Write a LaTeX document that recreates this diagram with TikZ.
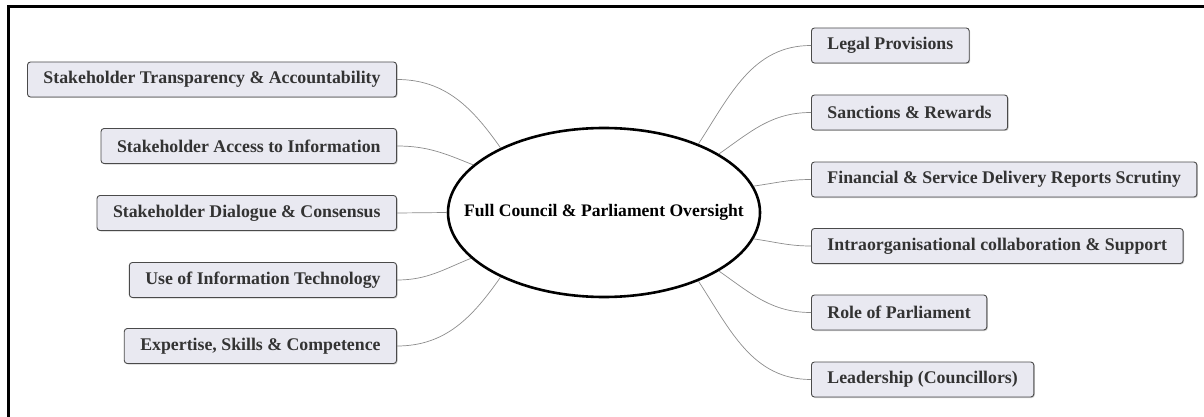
\documentclass[tikz,border=0pt]{standalone}
\usepackage{fontspec}
\setmainfont{Liberation Serif}
\usetikzlibrary{shapes.geometric,shadows}
\definecolor{boxfill}{HTML}{E9E9F1}
\definecolor{boxline}{HTML}{4A4A4A}
\definecolor{boxtext}{HTML}{333333}
\definecolor{linkgray}{HTML}{8C8C8C}
\begin{document}
\begin{tikzpicture}[x=1pt,y=-1pt,
  topic/.style={draw=boxline, line width=0.9pt, fill=boxfill, rounded corners=3pt,
    minimum height=35pt, inner xsep=16pt, inner ysep=0pt, text=boxtext,
    font=\fontsize{17.8}{19}\selectfont\bfseries,
    drop shadow={shadow xshift=1pt, shadow yshift=-1pt, fill=black!30, opacity=0.6}},
  leftbox/.style={topic, anchor=east},
  rightbox/.style={topic, anchor=west},
  link/.style={draw=linkgray, line width=0.7pt}]
\useasboundingbox (0,0) rectangle (1204,417);
% frame
\draw[line width=2.5pt] (1204,6.5) -- (8.5,6.5) -- (8.5,417);

% central topic: fixed-size ellipse with its title set on top
\node[ellipse, draw=black, line width=2.6pt, fill=white, minimum width=312pt, minimum height=169pt,
  inner sep=0pt] (c) at (604,212.5) {};
\node[font=\fontsize{17.6}{19}\selectfont\bfseries, inner sep=0pt] (ct) at (c.center)
  {Full Council \& Parliament Oversight};

% left branches
\node[leftbox] (l1) at (397,79.5) {Stakeholder Transparency \& Accountability};
\node[leftbox] (l2) at (397,146) {Stakeholder Access to Information};
\node[leftbox] (l3) at (397,213) {Stakeholder Dialogue \& Consensus};
\node[leftbox] (l4) at (397,280) {Use of Information Technology};
\node[leftbox] (l5) at (397,346) {Expertise, Skills \& Competence};

% right branches
\node[rightbox] (r1) at (811,45.5) {Legal Provisions};
\node[rightbox] (r2) at (811,112.5) {Sanctions \& Rewards};
\node[rightbox] (r3) at (811,179.5) {Financial \& Service Delivery Reports Scrutiny};
\node[rightbox] (r4) at (811,246) {Intraorganisational collaboration \& Support};
\node[rightbox] (r5) at (811,312.5) {Role of Parliament};
\node[rightbox] (r6) at (811,379.5) {Leadership (Councillors)};

% connectors
\path[link] (l1.east) to[out=0, in=125] (c.148);
\path[link] (l2.east) to[out=0, in=158] (c.160.7);
\path[link] (l3.east) -- (c.180);
\path[link] (l4.east) to[out=0, in=202] (c.199.7);
\path[link] (l5.east) to[out=0, in=235] (c.212);
\path[link] (r1.west) to[out=180, in=57] (c.36.7);
\path[link] (r2.west) to[out=180, in=35] (c.27);
\path[link] (r3.west) to[out=180, in=8] (c.10.3);
\path[link] (r4.west) to[out=180, in=-8] (c.-10.6);
\path[link] (r5.west) to[out=180, in=-35] (c.-27);
\path[link] (r6.west) to[out=180, in=-57] (c.-36.7);
\end{tikzpicture}
\end{document}
